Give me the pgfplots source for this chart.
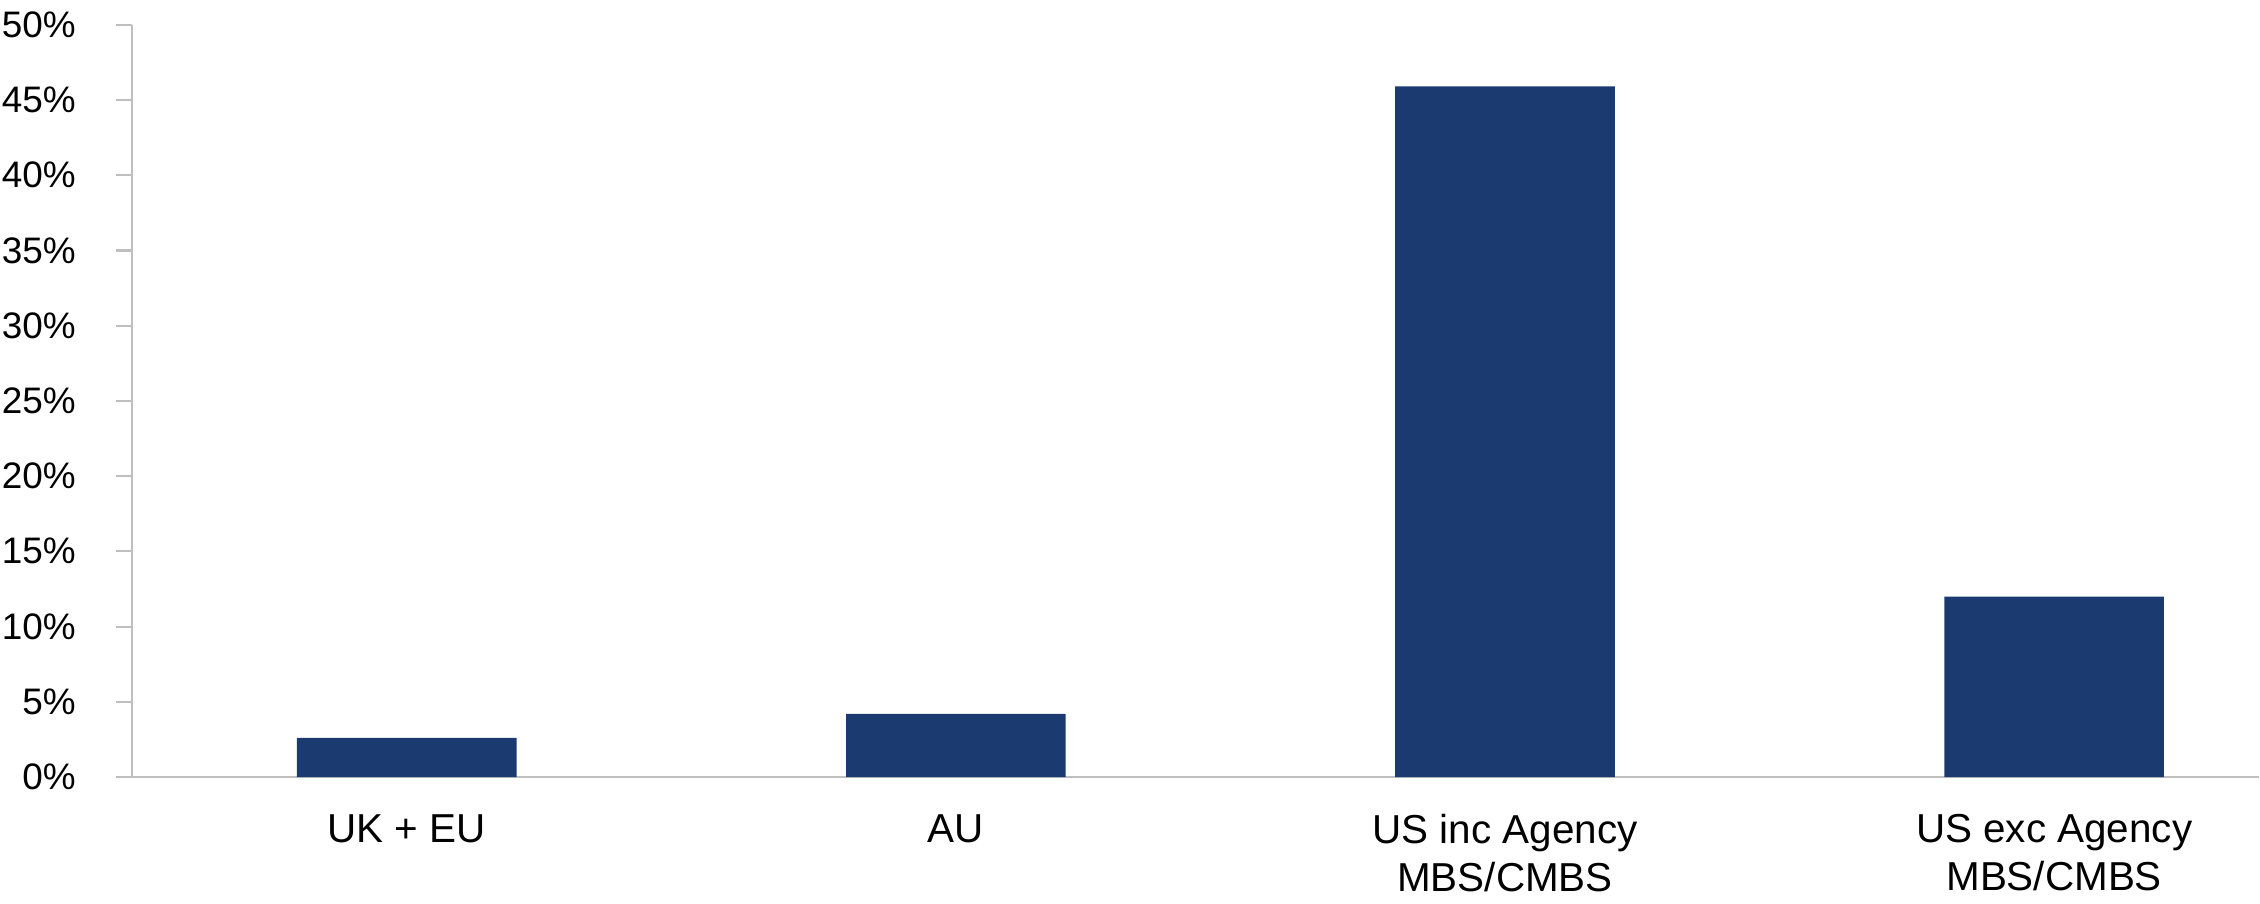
\documentclass[border=0pt]{standalone}
\usepackage{pgfplots}
\pgfplotsset{compat=1.18}
\usepackage{fontspec}
\setmainfont{Liberation Sans}
\definecolor{barblue}{RGB}{27,58,112}
\definecolor{axisgrey}{RGB}{191,191,191}
\begin{document}
\begin{tikzpicture}
  \begin{axis}[
    scale only axis,
    width=21.27cm,
    height=7.524cm,
    xmin=-0.5, xmax=3.373,
    ymin=0, ymax=50,
    axis x line=bottom,
    axis y line=left,
    axis line style={axisgrey, line width=0.6pt, -},
    xtick={0,1,2,3},
    xticklabels={UK + EU, AU, {US inc Agency\\MBS/CMBS}, {US exc Agency\\MBS/CMBS}},
    xticklabel style={align=center, font=\fontsize{11.5}{13.5}\selectfont, yshift=-0.09cm},
    xtick style={draw=none},
    ytick={0,5,...,50},
    yticklabel={\pgfmathprintnumber{\tick}\%},
    /pgf/number format/assume math mode=true,
    yticklabel style={font=\fontsize{10.5}{12}\selectfont, inner xsep=0.5pt, xshift=-0.382cm},
    tick align=outside,
    major tick length=0.16cm,
    ytick style={axisgrey, line width=0.6pt},
  ]
    \addplot[ybar, bar width=0.4, fill=barblue, draw=none] coordinates {
      (0, 2.6)
      (1, 4.2)
      (2, 45.9)
      (3, 12.0)
    };
  \end{axis}
\end{tikzpicture}
\end{document}
